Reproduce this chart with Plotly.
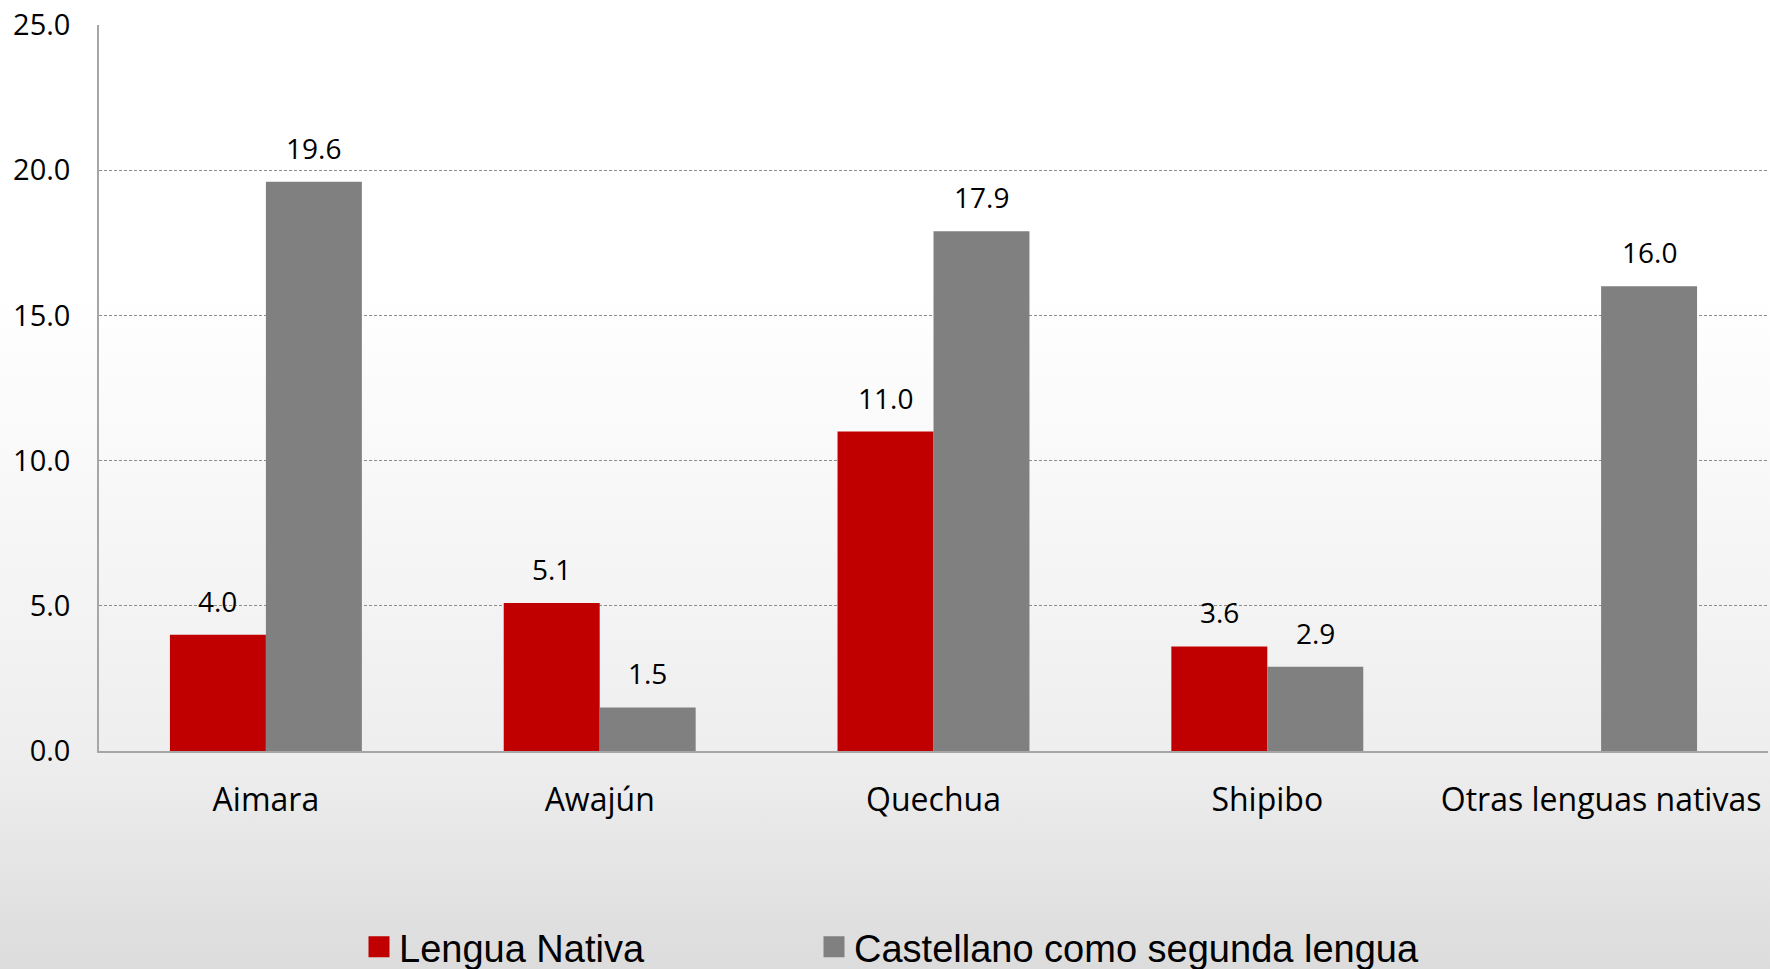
import base64
import plotly.graph_objects as go

categories = ["Aimara", "Awajún", "Quechua", "Shipibo", "Otras lenguas nativas"]
lengua_nativa = [4.0, 5.1, 11.0, 3.6, None]
castellano = [19.6, 1.5, 17.9, 2.9, 16.0]
series_names = ["Lengua Nativa", "Castellano como segunda lengua"]
y_ticks = [0, 5, 10, 15, 20, 25]

RED = "#c00000"
GRAY = "#808080"
FONT = "Open Sans, Noto Sans, sans-serif"
LEGEND_FONT = "Liberation Sans, Arial, sans-serif"

W, H = 1770, 969
ML, MR, MT, MB = 99, 2, 25, 218
PW = W - ML - MR
PH = H - MT - MB

fig = go.Figure()
fig.add_trace(go.Bar(x=categories, y=lengua_nativa, name=series_names[0],
                     marker=dict(color=RED, line=dict(width=0)), showlegend=False))
fig.add_trace(go.Bar(x=categories, y=castellano, name=series_names[1],
                     marker=dict(color=GRAY, line=dict(width=0)), showlegend=False))

# legend entries (one legend each, so they can be placed like the original)
for name, col, lg in zip(series_names, [RED, GRAY], ["legend", "legend2"]):
    fig.add_trace(go.Scatter(x=[None], y=[None], mode="markers", name=name,
                             marker=dict(symbol="square", size=16, color=col,
                                         line=dict(width=5, color=col)),
                             showlegend=True, legend=lg))

# value labels
annotations = []
for vals, sign in ((lengua_nativa, -1), (castellano, 1)):
    for c, v in zip(categories, vals):
        if v is None:
            continue
        annotations.append(dict(x=c, y=v, xref="x", yref="y", text=f"{v:.1f}",
                                showarrow=False, yanchor="bottom", xanchor="center",
                                xshift=sign * 48, yshift=13,
                                font=dict(family=FONT, size=28, color="#000000")))

# gradient background
svg = ('<svg xmlns="http://www.w3.org/2000/svg" width="100" height="100" preserveAspectRatio="none">'
       '<defs><linearGradient id="g" x1="0" y1="0" x2="0" y2="1">'
       '<stop offset="0" stop-color="#ffffff"/>'
       '<stop offset="0.3" stop-color="#ffffff"/>'
       '<stop offset="0.78" stop-color="#eeeeee"/>'
       '<stop offset="1" stop-color="#dcdcdc"/>'
       '</linearGradient></defs>'
       '<rect x="0" y="0" width="100" height="100" fill="url(#g)"/></svg>')
src = "data:image/svg+xml;base64," + base64.b64encode(svg.encode()).decode()

legend_y = -(947 - (MT + PH)) / PH
legend_common = dict(orientation="h", xanchor="left", y=legend_y, yanchor="middle",
                     font=dict(family=LEGEND_FONT, size=38, color="#000000"),
                     bgcolor="rgba(0,0,0,0)", borderwidth=0)

fig.update_layout(
    width=W, height=H,
    margin=dict(l=ML, r=MR, t=MT, b=MB, autoexpand=False),
    paper_bgcolor="white",
    plot_bgcolor="rgba(0,0,0,0)",
    barmode="group", bargap=0.425, bargroupgap=0,
    annotations=annotations,
    images=[dict(source=src, xref="paper", yref="paper",
                 x=-ML / PW, y=1 + MT / PH, sizex=W / PW, sizey=H / PH,
                 xanchor="left", yanchor="top", sizing="stretch", layer="below")],
    legend=dict(x=(359 - ML) / PW, **legend_common),
    legend2=dict(x=(814 - ML) / PW, **legend_common),
    showlegend=True,
    xaxis=dict(showline=True, linecolor="#a6a6a6", linewidth=1.5, ticks="",
               tickfont=dict(family=FONT, size=32, color="#000000"),
               ticklabelstandoff=20, showgrid=False),
    yaxis=dict(range=[0, 25], tickvals=y_ticks, tickformat=".1f",
               showline=True, linecolor="#a6a6a6", linewidth=1.5,
               showgrid=True, gridcolor="#8c8c8c", gridwidth=1, griddash="3px,2px",
               zeroline=False, ticks="", ticklabelstandoff=21,
               tickfont=dict(family=FONT, size=29, color="#000000")),
)

fig.write_html("out.html", config={"displayModeBar": False},
               post_script="document.body.style.margin='0';document.body.style.overflow='hidden';")
